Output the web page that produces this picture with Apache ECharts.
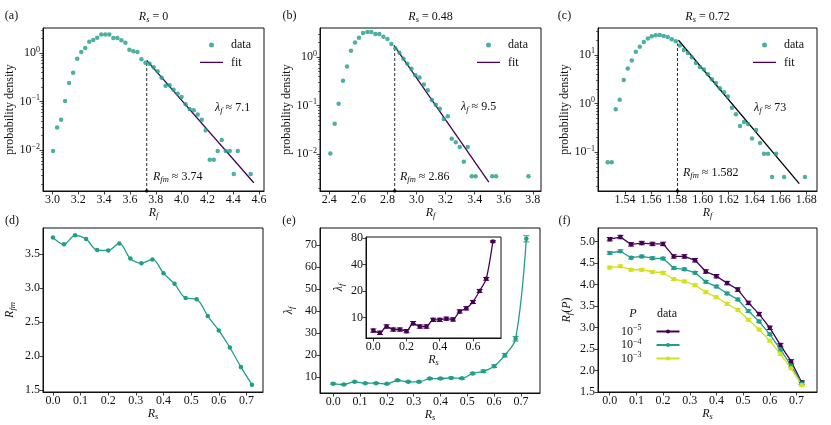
<!DOCTYPE html>
<html>
<head>
<meta charset="utf-8">
<script src="https://cdn.jsdelivr.net/npm/echarts@6.0.0/dist/echarts.min.js"></script>
<style>
  html, body { margin: 0; padding: 0; background: #fff; }
  #main { width: 831px; height: 425px; }
</style>
</head>
<body>
<div id="main"></div>
<script>
// ---- data ----
// (a) R_s = 0
var aX = [3.005,3.036,3.067,3.098,3.129,3.160,3.192,3.223,3.254,3.285,3.316,3.347,3.378,3.409,3.440,3.472,3.503,3.534,3.565,3.596,3.627,3.658,3.689,3.720,3.752,3.783,3.814,3.845,3.876,3.907,3.938,3.969,4.000,4.031,4.062,4.094,4.125,4.156,4.187,4.218,4.249,4.280,4.311,4.342,4.373,4.404,4.435,4.535];
var aY = [0.0095,0.029,0.042,0.102,0.24,0.39,0.76,1.05,1.27,1.71,1.85,2.07,2.39,2.39,2.39,2.04,2.04,1.83,1.63,1.17,1.08,1.05,0.74,0.63,0.60,0.51,0.42,0.31,0.21,0.215,0.175,0.145,0.124,0.0875,0.07,0.066,0.054,0.042,0.0254,0.0063,0.0063,0.0095,0.016,0.0095,0.0095,0.0032,0.0095,0.0032];
// (b) R_s = 0.48
var bX = [2.407,2.437,2.464,2.494,2.522,2.549,2.577,2.604,2.632,2.662,2.689,2.717,2.744,2.772,2.800,2.827,2.854,2.882,2.910,2.937,2.965,2.992,3.020,3.050,3.077,3.105,3.132,3.160,3.187,3.215,3.242,3.270,3.297,3.325,3.352,3.380,3.407,3.520,3.547,3.770];
var bY = [0.0103,0.042,0.109,0.325,0.64,1.35,2.0,2.5,3.13,3.28,3.28,2.98,2.98,2.62,2.35,1.85,1.51,1.23,0.92,0.73,0.575,0.42,0.38,0.27,0.206,0.13,0.104,0.086,0.053,0.06,0.0207,0.0174,0.0139,0.0069,0.0139,0.0035,0.0035,0.0035,0.0035,0.0035];
// (c) R_s = 0.72
var cX = [1.5266,1.5297,1.5328,1.5359,1.5390,1.5421,1.5452,1.5483,1.5514,1.5545,1.5576,1.5606,1.5637,1.5668,1.5699,1.5730,1.5761,1.5792,1.5823,1.5854,1.5885,1.5916,1.5947,1.5978,1.6009,1.6040,1.6071,1.6102,1.6133,1.6164,1.6195,1.6226,1.6257,1.6288,1.6319,1.6350,1.6381,1.6412,1.6443,1.6474,1.6505,1.6536,1.6567,1.6629,1.6790];
var cY = [0.062,0.062,0.76,1.2,3.04,5.2,7.6,11.6,14.7,18.3,21.5,24,25.1,25.5,24.3,23.2,20.8,18.9,15.5,12.6,10.9,8.9,6.8,5.6,5.0,4.0,3.14,2.63,2.05,1.7,1.39,0.82,0.6,0.345,0.417,0.38,0.19,0.286,0.155,0.093,0.093,0.031,0.093,0.031,0.031];

// exponential fits: [start, end] points
var fitAX = [3.730, 4.559], fitAY = [0.706, 0.00212];
var fitBX = [2.845, 3.497], fitBY = [1.74, 0.00265];
var fitCX = [1.5813, 1.6746], fitCY = [19.9, 0.0227];

// R_fm markers (position, top of dashed line) and printed values
var rfmPos = [3.730, 2.850, 1.5805];
var rfmTop = [0.65, 1.42, 17];
var rfmText = ['3.74', '2.86', '1.582'];
var lamText = ['7.1', '9.5', '73'];
var rsText = ['0', '0.48', '0.72'];

// bottom row, vs R_s
var rs = [0,0.04,0.08,0.12,0.16,0.20,0.24,0.28,0.32,0.36,0.40,0.44,0.48,0.52,0.56,0.60,0.64,0.68,0.72];
var rfmVals = [3.74,3.64,3.77,3.716,3.554,3.549,3.652,3.43,3.363,3.417,3.216,3.06,2.853,2.833,2.588,2.377,2.127,1.843,1.583];
var lamVals = [7.1,6.7,7.9,7.3,7.3,7.0,8.6,7.9,7.9,9.4,9.4,9.7,9.5,11.7,12.7,15.0,20.0,27.4,72.7];
var lamErr  = [0.3,0.3,0.35,0.3,0.3,0.3,0.4,0.35,0.35,0.4,0.4,0.4,0.4,0.5,0.55,0.6,0.8,1.0,1.4];
var rP5 = [5.05,5.10,4.93,4.96,4.94,4.94,4.65,4.65,4.56,4.30,4.19,4.03,3.88,3.57,3.31,2.99,2.59,2.21,1.72];
var rP4 = [4.73,4.77,4.62,4.65,4.61,4.60,4.38,4.35,4.27,4.06,3.95,3.79,3.65,3.38,3.14,2.84,2.49,2.11,1.70];
var rP3 = [4.39,4.42,4.34,4.34,4.29,4.27,4.12,4.07,3.98,3.82,3.70,3.55,3.41,3.18,2.95,2.69,2.38,2.05,1.66];
var eP5 = [0.04,0.04,0.04,0.04,0.04,0.04,0.04,0.04,0.04,0.04,0.04,0.04,0.04,0.04,0.04,0.04,0.04,0.04,0.04];
var eP4 = [0.03,0.03,0.03,0.03,0.03,0.03,0.03,0.03,0.03,0.03,0.03,0.03,0.03,0.03,0.03,0.03,0.03,0.03,0.03];
var eP3 = [0.03,0.03,0.03,0.03,0.03,0.03,0.03,0.03,0.03,0.03,0.03,0.03,0.03,0.03,0.03,0.03,0.03,0.03,0.03];

// tick labels
var aTicks = [3.0,3.2,3.4,3.6,3.8,4.0,4.2,4.4,4.6];
var bTicks = [2.4,2.6,2.8,3.0,3.2,3.4,3.6,3.8];
var cTicks = [1.54,1.56,1.58,1.60,1.62,1.64,1.66,1.68];
var decA = [0.01,0.1,1], decB = [0.01,0.1,1], decC = [0.1,1,10];
var rsTicks = [0.0,0.1,0.2,0.3,0.4,0.5,0.6,0.7];
var rfmTicks = [1.5,2.0,2.5,3.0,3.5];
var lamTicks = [10,20,30,40,50,60,70];
var insXTicks = [0.0,0.2,0.4,0.6];
var insYTicks = [10,20,40,80];
var rpTicks = [1.5,2.0,2.5,3.0,3.5,4.0,4.5,5.0];

// ---- styles ----
var FONT = '"Liberation Serif", "DejaVu Serif", serif';
var FS = 12;
var INK = '#111';
var TEAL = '#1f9e89', PURPLE = '#440154', YELLOW = '#d2e21b';

var RICH = {
  n:   {fontFamily: FONT, fontSize: FS, lineHeight: 15},
  i:   {fontFamily: FONT, fontSize: FS, fontStyle: 'italic', lineHeight: 15},
  sub: {fontFamily: FONT, fontSize: 8.5, fontStyle: 'italic', lineHeight: 8, verticalAlign: 'bottom'},
  b:   {fontFamily: FONT, fontSize: FS, lineHeight: 15},
  sup: {fontFamily: FONT, fontSize: 8, lineHeight: 7, verticalAlign: 'top'}
};

function pairs(xs, ys) { return xs.map(function (x, i) { return [x, ys[i]]; }); }
function triples(xs, ys, es) { return xs.map(function (x, i) { return [x, ys[i], es[i]]; }); }
function fix1(v) { return v.toFixed(1); }
function fix2(v) { return v.toFixed(2); }
function pow10(v) {
  var e = Math.round(Math.log10(v));
  return '{b|10}{sup|' + (e < 0 ? '\u2212' + (-e) : e) + '}';
}
function plain(v) { return String(Math.round(v)); }

function logMinor(lo, hi) {
  var out = [];
  for (var e = Math.floor(Math.log10(lo)); e <= Math.ceil(Math.log10(hi)); e++) {
    for (var m = 2; m <= 9; m++) {
      var v = +(m * Math.pow(10, e)).toPrecision(3);
      if (v > lo && v < hi) out.push(v);
    }
  }
  return out;
}

function axis(type, pos, gridIndex, range, ticks, fmt, name, gap) {
  return {
    type: type, position: pos, gridIndex: gridIndex, min: range[0], max: range[1],
    axisLine: {show: true, onZero: false, lineStyle: {color: INK, width: 1}},
    axisTick: {show: true, inside: false, length: 3.5, customValues: ticks, lineStyle: {color: INK, width: 0.8}},
    axisLabel: {customValues: ticks, formatter: fmt, margin: 3, color: INK, fontFamily: FONT, fontSize: FS, rich: RICH},
    splitLine: {show: false},
    name: name, nameLocation: 'middle', nameGap: gap,
    nameTextStyle: {color: INK, fontFamily: FONT, fontSize: FS, rich: RICH}
  };
}
function minorAxis(gridIndex, range) {
  return {
    type: 'log', position: 'left', gridIndex: gridIndex, min: range[0], max: range[1],
    axisLine: {show: false},
    axisTick: {show: true, inside: false, length: 2, customValues: logMinor(range[0], range[1]), lineStyle: {color: INK, width: 0.6}},
    axisLabel: {show: false},
    splitLine: {show: false}
  };
}

var RANGE = {
  a: {x: [2.927, 4.638], y: [0.00143, 3.27]},
  b: {x: [2.336, 3.856], y: [0.00173, 3.96]},
  c: {x: [1.5191, 1.6883], y: [0.01596, 35.5]},
  d: {x: [-0.036, 0.76], y: [1.475, 3.878]},
  e: {x: [-0.049, 0.771], y: [2.86, 77.6]},
  ins: {x: [-0.044, 0.769], y: [5.85, 81.7]},
  f: {x: [-0.044, 0.777], y: [1.5, 5.31]}
};

function gridBox(l, t, w, h, bg) {
  return {left: l, top: t, width: w, height: h, show: true, borderColor: INK, borderWidth: 1,
          backgroundColor: bg || 'transparent', containLabel: false};
}

function errBar(params, api) {
  var x = api.value(0), y = api.value(1), e = api.value(2);
  var hi = api.coord([x, y + e]), lo = api.coord([x, y - e]);
  var w = 3;
  var st = {stroke: api.visual('color'), lineWidth: 1};
  return {type: 'group', children: [
    {type: 'line', shape: {x1: hi[0], y1: hi[1], x2: lo[0], y2: lo[1]}, style: st},
    {type: 'line', shape: {x1: hi[0] - w, y1: hi[1], x2: hi[0] + w, y2: hi[1]}, style: st},
    {type: 'line', shape: {x1: lo[0] - w, y1: lo[1], x2: lo[0] + w, y2: lo[1]}, style: st}
  ]};
}

function txt(x, y, text, align) {
  return {type: 'text', x: x, y: y, silent: true,
    style: {text: text, rich: RICH, font: FS + 'px ' + FONT, fill: INK, align: align || 'left', verticalAlign: 'middle'}};
}

// top row histogram panels
var histX = [aX, bX, cX], histY = [aY, bY, cY];
var fitX = [fitAX, fitBX, fitCX], fitY = [fitAY, fitBY, fitCY];
var fitColor = [PURPLE, PURPLE, '#000'];
var yMins = [RANGE.a.y[0], RANGE.b.y[0], RANGE.c.y[0]];

var series = [];
for (var k = 0; k < 3; k++) {
  series.push({name: 'fit', type: 'line', xAxisIndex: k, yAxisIndex: k, data: pairs(fitX[k], fitY[k]),
    symbol: 'none', lineStyle: {color: fitColor[k], width: 1.3}, itemStyle: {color: fitColor[k]}, z: 3});
  series.push({name: 'data', type: 'scatter', xAxisIndex: k, yAxisIndex: k, data: pairs(histX[k], histY[k]),
    symbol: 'circle', symbolSize: 4.5, itemStyle: {color: TEAL}, z: 4});
  series.push({name: 'rfm' + k, type: 'line', xAxisIndex: k, yAxisIndex: k,
    data: [[rfmPos[k], yMins[k]], [rfmPos[k], rfmTop[k]]], symbol: 'none',
    lineStyle: {color: INK, width: 0.9, type: [3, 2]}, z: 2});
  series.push({name: 'rfmdot' + k, type: 'scatter', xAxisIndex: k, yAxisIndex: k, clip: false,
    data: [[rfmPos[k], yMins[k]]], symbolSize: 3.5, itemStyle: {color: '#000'}, z: 5});
}
// (d)
series.push({name: 'Rfm', type: 'line', xAxisIndex: 3, yAxisIndex: 3, data: pairs(rs, rfmVals),
  smooth: 0.35, symbol: 'circle', symbolSize: 4.5, showSymbol: true,
  lineStyle: {color: TEAL, width: 1.3}, itemStyle: {color: TEAL}});
// (e)
series.push({name: 'lam', type: 'line', xAxisIndex: 4, yAxisIndex: 4, data: pairs(rs, lamVals),
  smooth: 0.35, symbol: 'circle', symbolSize: 4.5,
  lineStyle: {color: TEAL, width: 1.3}, itemStyle: {color: TEAL}});
series.push({name: 'lamErr', type: 'custom', xAxisIndex: 4, yAxisIndex: 4, data: triples(rs, lamVals, lamErr),
  renderItem: errBar, itemStyle: {color: TEAL}, z: 3});
// inset
series.push({name: 'lamIns', type: 'line', xAxisIndex: 5, yAxisIndex: 5, data: pairs(rs, lamVals),
  smooth: 0.25, symbol: 'circle', symbolSize: 4.5,
  lineStyle: {color: PURPLE, width: 1.3}, itemStyle: {color: PURPLE}, z: 6});
series.push({name: 'lamInsErr', type: 'custom', xAxisIndex: 5, yAxisIndex: 5, data: triples(rs, lamVals, lamErr),
  renderItem: errBar, itemStyle: {color: PURPLE}, z: 6});
// (f)
var fSets = [['P5', rP5, eP5, PURPLE], ['P4', rP4, eP4, TEAL], ['P3', rP3, eP3, YELLOW]];
fSets.forEach(function (s) {
  series.push({name: s[0], type: 'line', xAxisIndex: 6, yAxisIndex: 6, data: pairs(rs, s[1]),
    symbol: 'circle', symbolSize: 4.5, lineStyle: {color: s[3], width: 1.3}, itemStyle: {color: s[3]}});
  series.push({name: s[0] + 'err', type: 'custom', xAxisIndex: 6, yAxisIndex: 6, data: triples(rs, s[1], s[2]),
    renderItem: errBar, itemStyle: {color: s[3]}, z: 3});
});

var RsName = '{i|R}{sub|s}', RfName = '{i|R}{sub|f}';

var xAxes = [
  axis('value', 'bottom', 0, RANGE.a.x, aTicks, fix1, RfName, 12),
  axis('value', 'bottom', 1, RANGE.b.x, bTicks, fix1, RfName, 12),
  axis('value', 'bottom', 2, RANGE.c.x, cTicks, fix2, RfName, 12),
  axis('value', 'bottom', 3, RANGE.d.x, rsTicks, fix1, RsName, 12.5),
  axis('value', 'bottom', 4, RANGE.e.x, rsTicks, fix1, RsName, 12.5),
  axis('value', 'bottom', 5, RANGE.ins.x, insXTicks, fix1, RsName, 10),
  axis('value', 'bottom', 6, RANGE.f.x, rsTicks, fix1, RsName, 12.5)
];
var yAxes = [
  axis('log', 'left', 0, RANGE.a.y, decA, pow10, 'probability density', 23),
  axis('log', 'left', 1, RANGE.b.y, decB, pow10, 'probability density', 23),
  axis('log', 'left', 2, RANGE.c.y, decC, pow10, 'probability density', 23),
  axis('value', 'left', 3, RANGE.d.y, rfmTicks, fix1, '{i|R}{sub|fm}', 26),
  axis('value', 'left', 4, RANGE.e.y, lamTicks, plain, '{i|\u03bb}{sub|f}', 24),
  axis('log', 'left', 5, RANGE.ins.y, insYTicks, plain, '{i|\u03bb}{sub|f}', 20),
  axis('value', 'left', 6, RANGE.f.y, rpTicks, fix1, '{i|R}{sub|f}{n|(}{i|P}{n|)}', 24),
  minorAxis(0, RANGE.a.y),
  minorAxis(1, RANGE.b.y),
  minorAxis(2, RANGE.c.y)
];

function topLegend(left) {
  return {left: left, top: 37.5, orient: 'vertical', padding: 0, itemWidth: 23, itemHeight: 5, itemGap: 2.4,
    selectedMode: false,
    data: ['data', {name: 'fit', icon: 'path://M0,0H23V1.3H0Z'}],
    textStyle: {fontFamily: FONT, fontSize: FS, color: INK, lineHeight: 15, padding: [0, 0, 0, 3]}};
}
var pLabel = {P5: '{b|10}{sup|\u22125}', P4: '{b|10}{sup|\u22124}', P3: '{b|10}{sup|\u22123}'};

var graphics = [
  txt(11.5, 15.5, '(a)', 'center'), txt(289.5, 15.5, '(b)', 'center'), txt(564.5, 15.5, '(c)', 'center'),
  txt(12, 221, '(d)', 'center'), txt(289, 221, '(e)', 'center'), txt(564.5, 221, '(f)', 'center'),
  txt(633, 314, '{i|P}', 'center'), txt(667, 314, 'data', 'center')
];
var titleX = [153.5, 430.5, 707.5];
var lamPos = [[215, 108], [461, 107], [754, 108]];
var rfmLabPos = [[153, 177], [400, 177], [683, 173]];
for (var j = 0; j < 3; j++) {
  graphics.push(txt(titleX[j], 17, '{i|R}{sub|s}{n| = ' + rsText[j] + '}', 'center'));
  graphics.push(txt(lamPos[j][0], lamPos[j][1], '{i|\u03bb}{sub|f}{n| \u2248 ' + lamText[j] + '}'));
  graphics.push(txt(rfmLabPos[j][0], rfmLabPos[j][1], '{i|R}{sub|fm}{n| \u2248 ' + rfmText[j] + '}'));
}

var option = {
  animation: false,
  backgroundColor: '#fff',
  textStyle: {fontFamily: FONT},
  grid: [
    gridBox(43, 28, 221, 163), gridBox(320, 28, 221, 163), gridBox(598, 28, 219, 163),
    gridBox(43, 228, 220, 164), gridBox(320, 228, 220, 165),
    gridBox(366, 237, 135, 101, '#fff'),
    gridBox(598, 228, 219, 164)
  ],
  xAxis: xAxes,
  yAxis: yAxes,
  legend: [
    topLegend(200), topLegend(477), topLegend(753),
    {left: 621, top: 324, orient: 'vertical', align: 'right', padding: 0, itemWidth: 23, itemHeight: 5, itemGap: 0,
     selectedMode: false, data: ['P5', 'P4', 'P3'],
     formatter: function (n) { return pLabel[n]; },
     textStyle: {fontFamily: FONT, fontSize: FS, color: INK, padding: [0, 10, 0, 0], rich: RICH}}
  ],
  graphic: graphics,
  series: series
};

var chart = echarts.init(document.getElementById('main'));
chart.setOption(option);
</script>
</body>
</html>
